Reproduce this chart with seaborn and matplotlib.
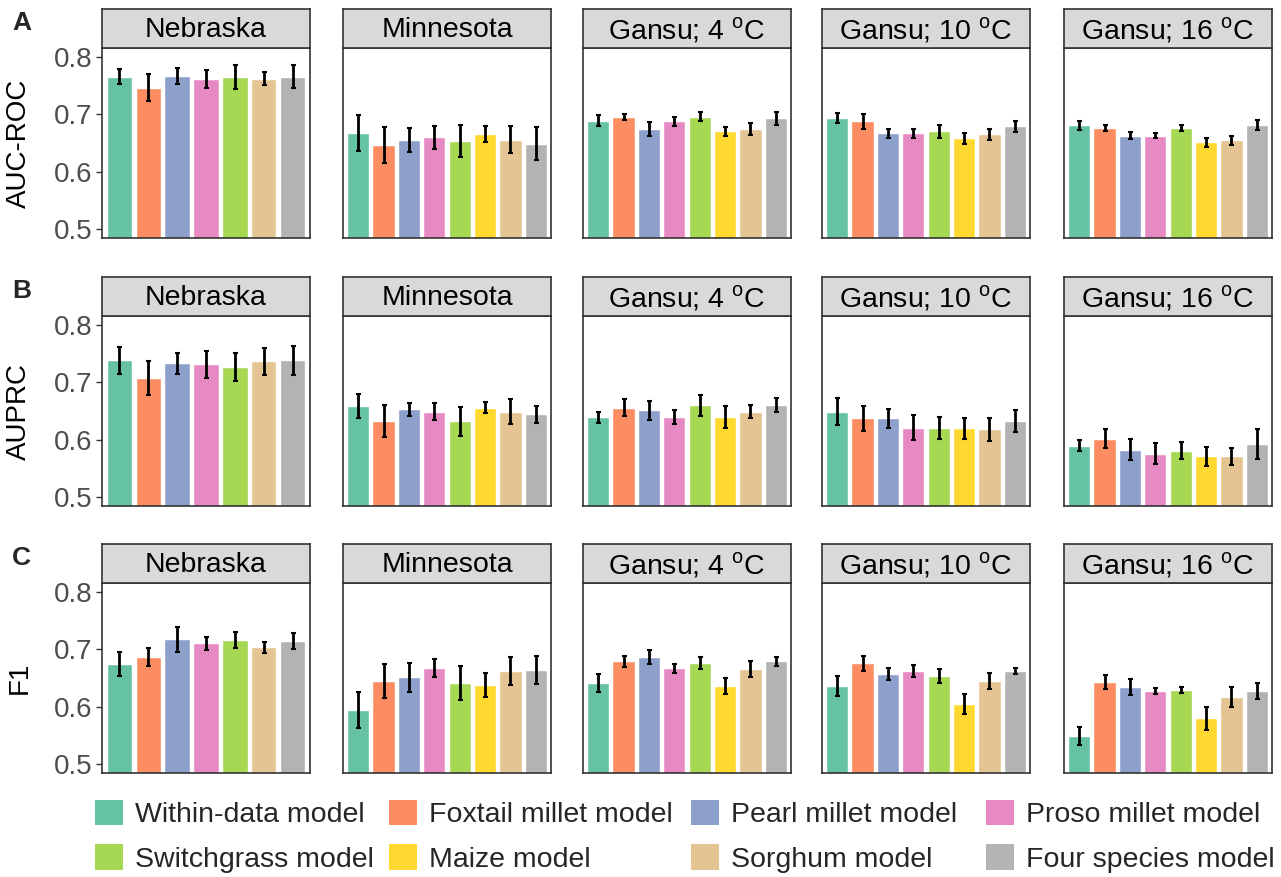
import numpy as np
import pandas as pd
import matplotlib
matplotlib.use("Agg")
import matplotlib.pyplot as plt
from matplotlib.patches import Patch
import seaborn as sns

# ---- data (mean +/- error) ----
models = ["Within-data model", "Foxtail millet model", "Pearl millet model", "Proso millet model",
          "Switchgrass model", "Maize model", "Sorghum model", "Four species model"]
locations = ["Nebraska", "Minnesota", "Gansu; 4 $^{\\mathrm{o}}$C",
             "Gansu; 10 $^{\\mathrm{o}}$C", "Gansu; 16 $^{\\mathrm{o}}$C"]
metrics = ["AUC-ROC", "AUPRC", "F1"]
nan = np.nan

# rows = locations, columns = models (Nebraska has no maize model)
auc_mean = [
    [0.765, 0.746, 0.767, 0.761, 0.764, nan, 0.762, 0.765],
    [0.667, 0.646, 0.655, 0.660, 0.653, 0.665, 0.656, 0.649],
    [0.689, 0.695, 0.674, 0.688, 0.696, 0.670, 0.674, 0.693],
    [0.693, 0.688, 0.667, 0.667, 0.670, 0.658, 0.665, 0.679],
    [0.681, 0.676, 0.663, 0.663, 0.676, 0.651, 0.655, 0.681],
]
auc_err = [
    [0.013, 0.023, 0.014, 0.016, 0.021, nan, 0.012, 0.020],
    [0.031, 0.031, 0.021, 0.020, 0.028, 0.014, 0.024, 0.028],
    [0.010, 0.005, 0.012, 0.008, 0.008, 0.008, 0.010, 0.011],
    [0.009, 0.013, 0.008, 0.008, 0.012, 0.009, 0.010, 0.010],
    [0.008, 0.005, 0.006, 0.005, 0.005, 0.008, 0.008, 0.009],
]
auprc_mean = [
    [0.738, 0.707, 0.733, 0.731, 0.726, nan, 0.736, 0.738],
    [0.658, 0.632, 0.653, 0.649, 0.632, 0.656, 0.649, 0.644],
    [0.639, 0.656, 0.651, 0.640, 0.660, 0.640, 0.649, 0.661],
    [0.649, 0.637, 0.637, 0.621, 0.621, 0.620, 0.618, 0.633],
    [0.590, 0.602, 0.583, 0.576, 0.581, 0.571, 0.571, 0.593],
]
auprc_err = [
    [0.024, 0.030, 0.018, 0.024, 0.024, nan, 0.023, 0.025],
    [0.021, 0.028, 0.011, 0.015, 0.025, 0.009, 0.021, 0.015],
    [0.010, 0.014, 0.017, 0.012, 0.018, 0.019, 0.011, 0.012],
    [0.024, 0.021, 0.016, 0.022, 0.019, 0.018, 0.020, 0.019],
    [0.010, 0.016, 0.018, 0.018, 0.015, 0.017, 0.014, 0.026],
]
f1_mean = [
    [0.674, 0.686, 0.717, 0.710, 0.716, nan, 0.703, 0.714],
    [0.594, 0.645, 0.651, 0.667, 0.641, 0.638, 0.662, 0.664],
    [0.641, 0.679, 0.686, 0.667, 0.676, 0.636, 0.665, 0.679],
    [0.636, 0.676, 0.657, 0.662, 0.653, 0.605, 0.645, 0.662],
    [0.549, 0.643, 0.634, 0.627, 0.629, 0.580, 0.617, 0.627],
]
f1_err = [
    [0.021, 0.016, 0.021, 0.011, 0.014, nan, 0.010, 0.014],
    [0.031, 0.029, 0.025, 0.016, 0.029, 0.021, 0.024, 0.024],
    [0.016, 0.010, 0.012, 0.008, 0.010, 0.014, 0.014, 0.008],
    [0.018, 0.013, 0.011, 0.011, 0.012, 0.017, 0.014, 0.005],
    [0.016, 0.012, 0.014, 0.005, 0.005, 0.020, 0.017, 0.014],
]
panel_letters = ["A", "B", "C"]

rows = []
for metric, means, errs in zip(metrics, [auc_mean, auprc_mean, f1_mean], [auc_err, auprc_err, f1_err]):
    for i, loc in enumerate(locations):
        for j, m in enumerate(models):
            rows.append({"metric": metric, "location": loc, "model": m,
                         "value": means[i][j], "err": errs[i][j]})
df = pd.DataFrame(rows).dropna()

# ---- style ----
sns.set_theme(style="white")
plt.rcParams["font.family"] = ["Liberation Sans", "DejaVu Sans"]
plt.rcParams["mathtext.fontset"] = "custom"
plt.rcParams["mathtext.rm"] = "Liberation Sans"
palette = dict(zip(models, sns.color_palette("Set2", 8)))
edge = "#333333"

W, H = 1281, 877
fig = plt.figure(figsize=(W / 100, H / 100), dpi=100)

col_left = [102, 343, 583, 822, 1064]
panel_w = 208
row_strip_top = [9, 277, 544]
strip_h = 39
panel_h = 190


def frac(x, y, w, h):
    return [x / W, 1 - (y + h) / H, w / W, h / H]


for r, metric in enumerate(metrics):
    for c, loc in enumerate(locations):
        sub = df[(df.metric == metric) & (df.location == loc)]
        order = [m for m in models if m in sub.model.values]
        sub = sub.set_index("model").loc[order].reset_index()

        ax = fig.add_axes(frac(col_left[c], row_strip_top[r] + strip_h, panel_w, panel_h))
        sns.barplot(data=sub, x="model", y="value", hue="model", order=order, hue_order=order,
                    palette=palette, width=0.88, errorbar=None, saturation=1,
                    legend=False, ax=ax)
        ax.errorbar(np.arange(len(order)), sub["value"], yerr=sub["err"], fmt="none",
                    ecolor="black", elinewidth=2, capsize=1.8, capthick=1.5, zorder=5)
        ax.set_xlim(-0.6, len(order) - 0.4)
        ax.set_ylim(0.485, 0.815)
        ax.set_xlabel("")
        ax.set_ylabel("")
        ax.set_xticks([])
        for s in ax.spines.values():
            s.set_color(edge)
            s.set_linewidth(1.2)
        if c == 0:
            ax.set_yticks([0.5, 0.6, 0.7, 0.8])
            ax.set_yticklabels(["0.5", "0.6", "0.7", "0.8"])
            ax.tick_params(axis="y", left=True, length=4, width=1, color=edge,
                           labelcolor="#4D4D4D", labelsize=20, pad=3)
            ax.set_ylabel(metric, fontsize=20, color="black")
            ax.yaxis.set_label_coords(-0.335, 0.5)
        else:
            ax.set_yticks([])

        sax = fig.add_axes(frac(col_left[c], row_strip_top[r], panel_w, strip_h))
        sax.set_facecolor("#D9D9D9")
        sax.set_xticks([])
        sax.set_yticks([])
        for s in sax.spines.values():
            s.set_color(edge)
            s.set_linewidth(1.2)
        sax.text(0.5, 0.45, loc, ha="center", va="center", fontsize=20.5, color="black",
                 transform=sax.transAxes)

    fig.text(12 / W, 1 - (row_strip_top[r] + 14) / H, panel_letters[r], fontsize=19,
             fontweight="bold", va="center", ha="left")

# legend: 2 rows x 4 columns, one legend per column so columns sit where the reference has them
handles = [Patch(facecolor=palette[m], edgecolor="none") for m in models]
legend_cols = [[0, 4], [1, 5], [2, 6], [3, 7]]
legend_x = [95, 389, 691, 986]
for xs, pair in zip(legend_x, legend_cols):
    fig.legend([handles[i] for i in pair], [models[i] for i in pair], ncol=1, frameon=False,
               loc="upper left", bbox_to_anchor=(xs / W, 1 - 800 / H), fontsize=20.5,
               handlelength=1.0, handleheight=1.0, handletextpad=0.4,
               labelspacing=0.55, borderaxespad=0, borderpad=0)

fig.savefig("out.png", dpi=100)
